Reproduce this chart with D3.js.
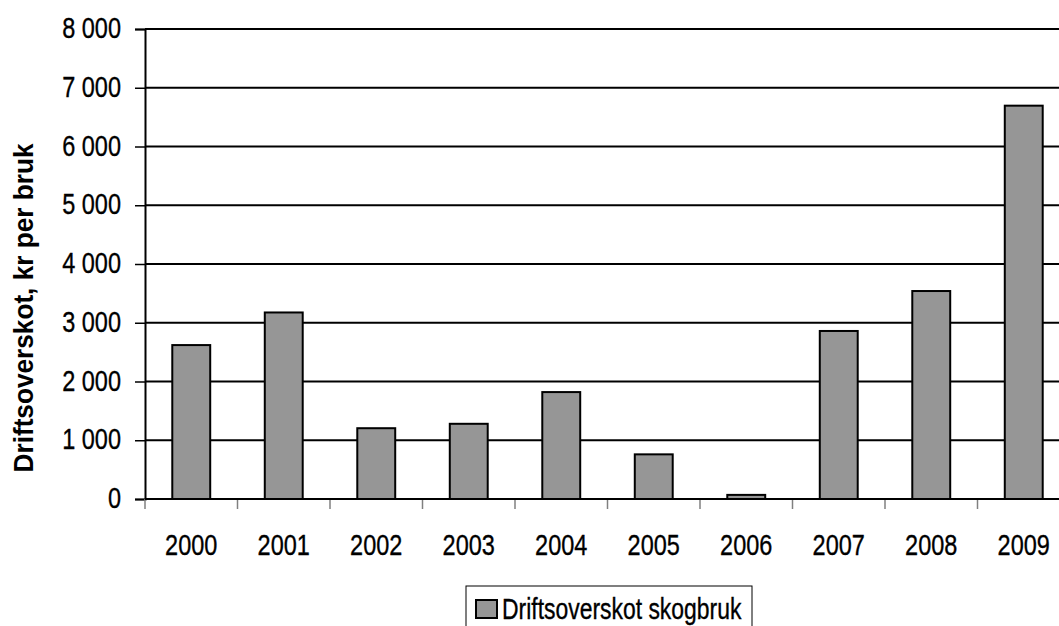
<!DOCTYPE html>
<html>
<head>
<meta charset="utf-8">
<script src="https://cdn.jsdelivr.net/npm/d3@7"></script>
<style>
  body { margin: 0; background: #fff; }
  text { font-family: "Liberation Sans", Arial, sans-serif; fill: #000; stroke: #000; stroke-width: 0.35px; }
</style>
</head>
<body>
<div id="chart"></div>
<script>
var years = ['2000', '2001', '2002', '2003', '2004', '2005', '2006', '2007', '2008', '2009'];
var values = [2620, 3175, 1205, 1280, 1820, 760, 70, 2860, 3540, 6695];
var yTicks = [0, 1000, 2000, 3000, 4000, 5000, 6000, 7000, 8000];
var seriesName = 'Driftsoverskot skogbruk';
var yTitle = 'Driftsoverskot, kr per bruk';

(function () {
    var width = 1059,
        height = 626,
        left = 145,
        plotTop = 29,
        plotW = 925, // runs past the right edge like the original
        plotH = 470;

    var svg = d3.select('#chart')
        .append('svg')
        .attr('width', width)
        .attr('height', height);

    // squeeze text horizontally, the original uses a condensed face
    var condense = function (sel, k) {
        sel.each(function () {
            var len = this.getComputedTextLength();
            d3.select(this)
                .attr('textLength', len * k)
                .attr('lengthAdjust', 'spacingAndGlyphs');
        });
    };

    var x = d3.scaleBand()
        .domain(years)
        .range([left, left + plotW])
        .paddingInner(0.59)
        .paddingOuter(0.295);

    var y = d3.scaleLinear()
        .domain([0, 8000])
        .range([plotTop + plotH, plotTop]);

    var fmt = function (d) {
        return d3.format(',')(d).replace(/,/g, ' ');
    };

    // gridlines
    svg.append('g')
        .selectAll('line')
        .data(yTicks.filter(function (d) { return d > 0; }))
        .enter()
        .append('line')
        .attr('x1', left)
        .attr('x2', width)
        .attr('y1', function (d) { return y(d); })
        .attr('y2', function (d) { return y(d); })
        .attr('stroke', '#000')
        .attr('stroke-width', 2);

    // y axis
    var yAxis = svg.append('g')
        .attr('transform', 'translate(' + left + ',0)')
        .call(d3.axisLeft(y).tickValues(yTicks).tickSize(10).tickPadding(14).tickFormat(fmt));
    yAxis.select('.domain').attr('stroke', '#000').attr('stroke-width', 2);
    yAxis.selectAll('.tick line').attr('stroke', '#000').attr('stroke-width', 1.5);
    yAxis.selectAll('.tick text')
        .style('font-size', '29px')
        .attr('dy', '0.3em')
        .call(condense, 0.81);

    // x axis
    var xAxis = svg.append('g')
        .attr('transform', 'translate(0,' + (plotTop + plotH) + ')')
        .call(d3.axisBottom(x).tickSize(0).tickPadding(35));
    xAxis.select('.domain').remove();
    xAxis.selectAll('.tick text')
        .style('font-size', '29px')
        .call(condense, 0.81);

    // category separators
    var step = x.step();
    svg.append('g')
        .selectAll('line')
        .data(d3.range(years.length + 1))
        .enter()
        .append('line')
        .attr('x1', function (i) { return left + i * step; })
        .attr('x2', function (i) { return left + i * step; })
        .attr('y1', plotTop + plotH)
        .attr('y2', plotTop + plotH + 10)
        .attr('stroke', '#808080')
        .attr('stroke-width', 1.5);

    // bars
    svg.append('g')
        .selectAll('rect')
        .data(values)
        .enter()
        .append('rect')
        .attr('x', function (d, i) { return x(years[i]); })
        .attr('y', function (d) { return y(d); })
        .attr('width', x.bandwidth())
        .attr('height', function (d) { return y(0) - y(d); })
        .attr('fill', '#969696')
        .attr('stroke', '#000')
        .attr('stroke-width', 2);

    // baseline
    svg.append('line')
        .attr('x1', left)
        .attr('x2', width)
        .attr('y1', y(0))
        .attr('y2', y(0))
        .attr('stroke', '#000')
        .attr('stroke-width', 2);

    // y title
    svg.append('text')
        .attr('transform', 'translate(33,308) rotate(-90)')
        .attr('text-anchor', 'middle')
        .style('font-size', '27px')
        .style('font-weight', 'bold')
        .style('stroke-width', '0px')
        .text(yTitle)
        .call(condense, 0.97);

    // legend
    var lg = svg.append('g').attr('transform', 'translate(466,586)');
    lg.append('rect')
        .attr('width', 286)
        .attr('height', 46)
        .attr('fill', '#fff')
        .attr('stroke', '#000')
        .attr('stroke-width', 1);
    lg.append('rect')
        .attr('x', 10)
        .attr('y', 14)
        .attr('width', 21)
        .attr('height', 18)
        .attr('fill', '#969696')
        .attr('stroke', '#000')
        .attr('stroke-width', 2);
    lg.append('text')
        .attr('x', 36)
        .attr('y', 33)
        .style('font-size', '29px')
        .text(seriesName)
        .call(condense, 0.79);
}());
</script>
</body>
</html>
